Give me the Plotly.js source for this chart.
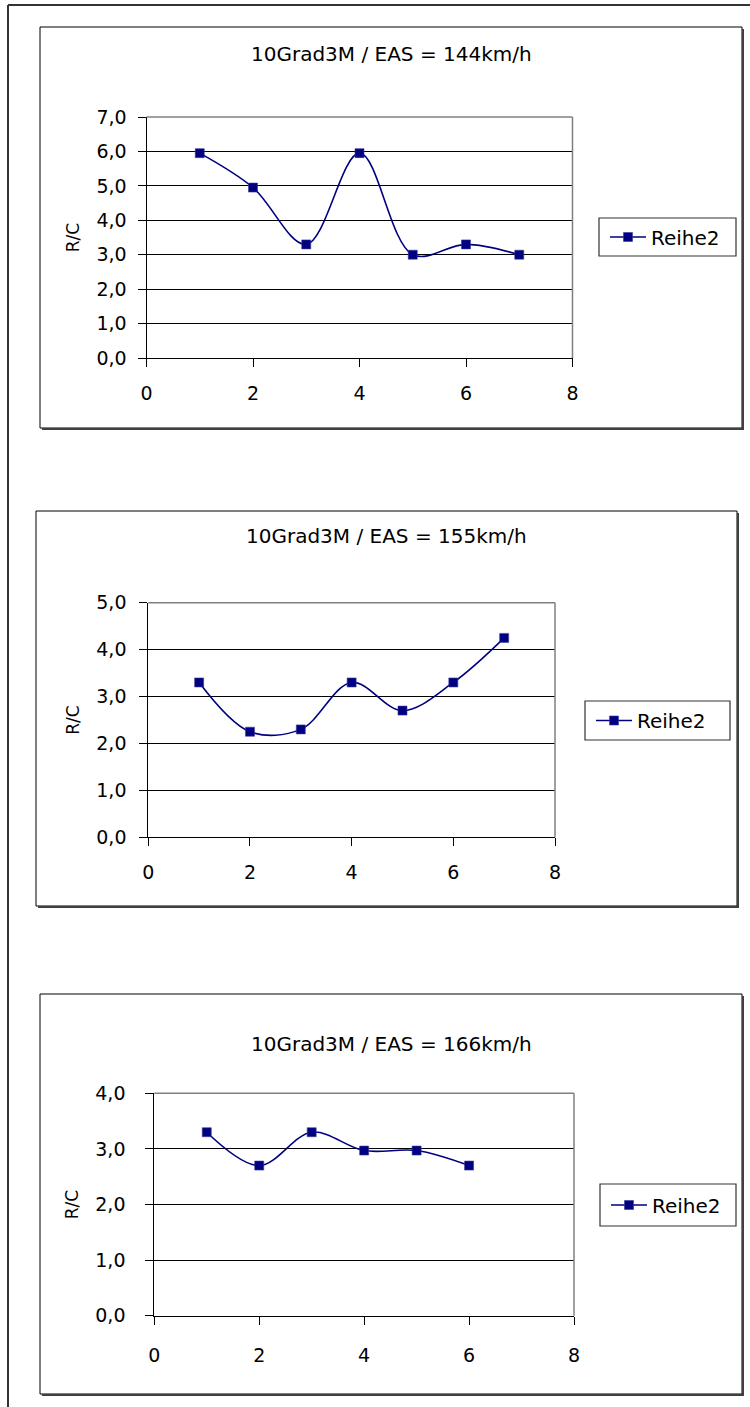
<!DOCTYPE html>
<html>
<head>
<meta charset="utf-8">
<script src="https://cdn.plot.ly/plotly-3.0.1.min.js"></script>
<style>html,body{margin:0;padding:0;background:#fff;}#chart{width:750px;height:1407px;}</style>
</head>
<body>
<div id="chart"></div>
<script>
// ---- data ----
var titles = ["10Grad3M / EAS = 144km/h", "10Grad3M / EAS = 155km/h", "10Grad3M / EAS = 166km/h"];
var seriesName = "Reihe2";
var yAxisLabel = "R/C";
var x1 = [1, 2, 3, 4, 5, 6, 7];
var y1 = [5.95, 4.95, 3.3, 5.95, 3.0, 3.3, 3.0];
var x2 = [1, 2, 3, 4, 5, 6, 7];
var y2 = [3.3, 2.25, 2.3, 3.3, 2.7, 3.3, 4.25];
var x3 = [1, 2, 3, 4, 5, 6];
var y3 = [3.3, 2.7, 3.3, 2.97, 2.97, 2.7];
var xTicks = [0, 2, 4, 6, 8];
var yMax = [7, 5, 4];

// ---- layout helpers (pixels -> paper) ----
var W = 750, H = 1407;
function fx(p){ return p / W; }
function fy(p){ return 1 - p / H; }

var FONT = "DejaVu Sans, Liberation Sans, Arial, sans-serif";
var navy = "#000080";

// per-chart geometry
var geo = [
  {box:[40,27,742,428], plot:[146.5,117,572.5,358], title:[391,54], leg:[599,218,736,256], ystand:7, xstand:10},
  {box:[36,511,737,906], plot:[148.3,602.7,555,837.3], title:[386.5,536], leg:[585,701,730,740], ystand:9, xstand:10},
  {box:[40,994,742,1394], plot:[154.3,1093.3,574,1315.7], title:[391,1044], leg:[600,1184,736,1226], ystand:16, xstand:14}
];
var xs = [x1, x2, x3], ys = [y1, y2, y3];

var traces = [];
var layout = {
  width: W, height: H,
  margin: {l:0, r:0, t:0, b:0},
  paper_bgcolor: "#fff", plot_bgcolor: "#fff",
  separators: ",.",
  font: {family: FONT, color: "#000", size: 19},
  showlegend: true,
  shapes: [], annotations: []
};

// outer frame
layout.shapes.push({type:"line", xref:"paper", yref:"paper", x0:fx(8), x1:fx(8), y0:fy(5), y1:fy(1407), line:{color:"#333", width:2}});
layout.shapes.push({type:"line", xref:"paper", yref:"paper", x0:fx(8), x1:fx(750), y0:fy(5), y1:fy(5), line:{color:"#333", width:2}});

for (var i = 0; i < 3; i++) {
  var g = geo[i];
  var n = i === 0 ? "" : String(i + 1);
  var legName = i === 0 ? "legend" : "legend" + (i + 1);
  traces.push({
    type: "scatter", mode: "lines+markers",
    x: xs[i], y: ys[i], name: seriesName,
    xaxis: "x" + n, yaxis: "y" + n,
    legend: legName,
    line: {color: navy, width: 1.6, shape: "spline", smoothing: 1},
    marker: {symbol: "square", size: 9, color: navy, line: {color: "#3a3a9a", width: 0.6}},
    hoverinfo: "x+y"
  });
  layout["xaxis" + n] = {
    domain: [fx(g.plot[0]), fx(g.plot[2])],
    anchor: "y" + n,
    range: [0, 8], tickvals: xTicks, ticktext: xTicks.map(String),
    showgrid: false, zeroline: false,
    showline: true, linecolor: "#000", linewidth: 1,
    ticks: "outside", ticklen: 8, tickcolor: "#000", tickwidth: 1,
    ticklabelstandoff: g.xstand,
    tickfont: {family: FONT, size: 19, color: "#000"},
    fixedrange: true
  };
  layout["yaxis" + n] = {
    domain: [fy(g.plot[3]), fy(g.plot[1])],
    anchor: "x" + n,
    range: [0, yMax[i]], dtick: 1, tick0: 0, tickformat: ".1f",
    showgrid: true, gridcolor: "#000", gridwidth: 1,
    zeroline: false,
    showline: true, linecolor: "#000", linewidth: 1,
    ticks: "outside", ticklen: 8, tickcolor: "#000", tickwidth: 1,
    ticklabelstandoff: g.ystand,
    tickfont: {family: FONT, size: 19, color: "#000"},
    title: {text: yAxisLabel, font: {family: FONT, size: 17, color: "#000"}, standoff: 12},
    fixedrange: true
  };
  layout[legName] = {
    x: fx(g.leg[0] + 6), xanchor: "left",
    y: fy((g.leg[1] + g.leg[3]) / 2), yanchor: "middle",
    bgcolor: "rgba(0,0,0,0)", borderwidth: 0,
    itemwidth: 36,
    font: {family: FONT, size: 20, color: "#000"}
  };
  // chart box
  layout.shapes.push({type:"rect", xref:"paper", yref:"paper", x0:fx(g.box[0]), x1:fx(g.box[2]), y0:fy(g.box[3]), y1:fy(g.box[1]), line:{color:"#000", width:1}, layer:"below"});
  layout.shapes.push({type:"line", xref:"paper", yref:"paper", x0:fx(g.box[2]+1), x1:fx(g.box[2]+1), y0:fy(g.box[1]+2), y1:fy(g.box[3]+2), line:{color:"#404040", width:2}});
  layout.shapes.push({type:"line", xref:"paper", yref:"paper", x0:fx(g.box[0]+2), x1:fx(g.box[2]+2), y0:fy(g.box[3]+1), y1:fy(g.box[3]+1), line:{color:"#404040", width:2}});
  // plot area top/right border (grey)
  layout.shapes.push({type:"line", xref:"x" + n + " domain", yref:"y" + n + " domain", x0:1, x1:1, y0:0, y1:1, line:{color:"#808080", width:1.5}});
  layout.shapes.push({type:"line", xref:"x" + n + " domain", yref:"y" + n + " domain", x0:0, x1:1, y0:1, y1:1, line:{color:"#808080", width:1.5}});
  // legend frame
  layout.shapes.push({type:"rect", xref:"paper", yref:"paper", x0:fx(g.leg[0]), x1:fx(g.leg[2]), y0:fy(g.leg[3]), y1:fy(g.leg[1]), line:{color:"#333", width:1.2}});
  // chart title
  layout.annotations.push({xref:"paper", yref:"paper", x:fx(g.title[0]), y:fy(g.title[1]), xanchor:"center", yanchor:"middle", showarrow:false, text:titles[i], font:{family: FONT, size: 20, color:"#000"}});
}

Plotly.newPlot("chart", traces, layout, {displayModeBar: false, staticPlot: true});
</script>
</body>
</html>
